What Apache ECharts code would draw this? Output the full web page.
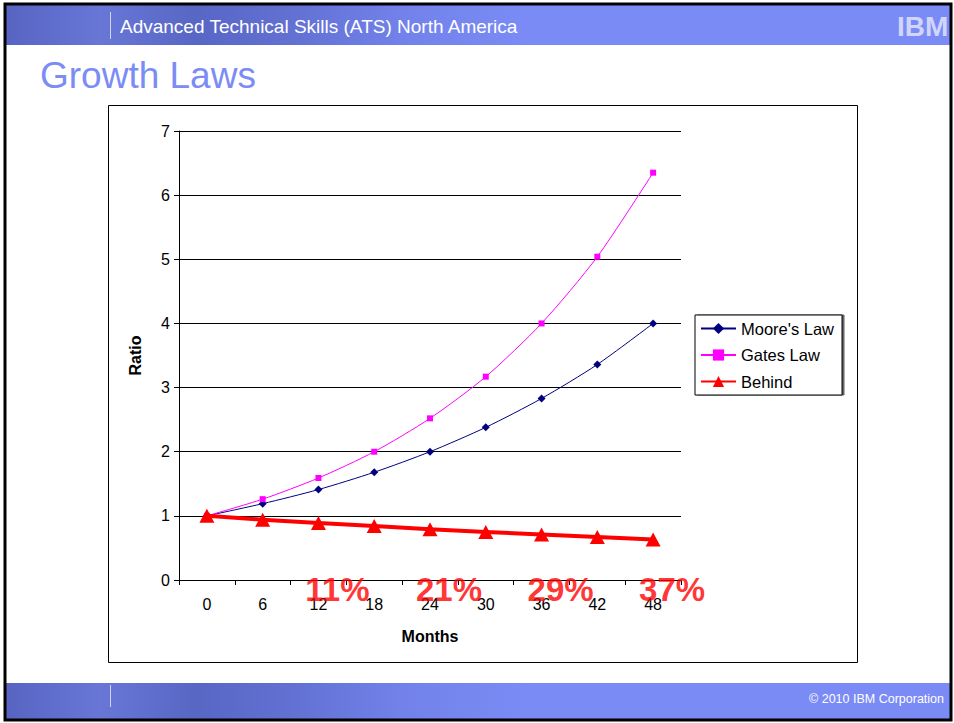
<!DOCTYPE html>
<html>
<head>
<meta charset="utf-8">
<title>Growth Laws</title>
<script src="https://cdn.jsdelivr.net/npm/echarts@6/dist/echarts.min.js"></script>
<style>
  html, body { margin: 0; padding: 0; background: #fff; }
  #chart { width: 954px; height: 723px; }
</style>
</head>
<body>
<div id="chart"></div>
<script>
// Months elapsed (category axis)
const months = ['0', '6', '12', '18', '24', '30', '36', '42', '48'];
// Relative capability, doubling every 24 months
const mooresLaw = [1, 1.19, 1.41, 1.68, 2, 2.38, 2.83, 3.36, 4];
// Relative demand, doubling every 18 months
const gatesLaw = [1, 1.26, 1.59, 2, 2.52, 3.17, 4, 5.04, 6.35];
// Ratio of the two
const behind = [1, 0.94, 0.89, 0.84, 0.79, 0.75, 0.71, 0.67, 0.63];
// Months at which the shortfall is called out
const calloutMonths = ['12', '24', '36', '48'];
// Value axis ticks
const ratioTicks = [0, 1, 2, 3, 4, 5, 6, 7];

const FONT = '"Liberation Sans", Arial, sans-serif';
const BAND = '#7b8bf5';

const callouts = calloutMonths.map(m => {
  const i = months.indexOf(m);
  return { value: [m, 0], shortfall: Math.round((1 - behind[i]) * 100) };
});

const chart = echarts.init(document.getElementById('chart'), null, { renderer: 'svg' });

const bandGradient = new echarts.graphic.LinearGradient(0, 0, 1, 0, [
  { offset: 0, color: '#5764c2' },
  { offset: 0.1, color: '#6876d6' },
  { offset: 0.2, color: '#5866c4' },
  { offset: 0.3, color: '#6270d2' },
  { offset: 0.42, color: '#7282ea' },
  { offset: 0.55, color: BAND },
  { offset: 1, color: BAND }
]);

// striped logo: horizontal bars cut through the letters
const logoStripes = [];
for (let k = 0; k < 8; k++) {
  logoStripes.push({
    type: 'rect', shape: { x: 894, y: 14 + k * 3.2 + 2.1, width: 58, height: 1.1 }, style: { fill: BAND }
  });
}

chart.setOption({
  animation: false,
  textStyle: { fontFamily: FONT },
  graphic: [
    // slide header band
    { type: 'rect', z: 0, shape: { x: 6, y: 5, width: 945, height: 40 }, style: { fill: bandGradient } },
    { type: 'rect', z: 1, shape: { x: 110, y: 12, width: 1, height: 27 }, style: { fill: 'rgba(255,255,255,0.7)' } },
    { type: 'text', z: 2, x: 120, y: 26, style: { text: 'Advanced Technical Skills (ATS) North America', fill: '#fff', font: '19px ' + FONT, verticalAlign: 'middle' } },
    { type: 'text', z: 2, x: 897, y: 26, style: { text: 'IBM', fill: '#d0d5fa', font: 'bold 28px ' + FONT, verticalAlign: 'middle' } },
    { type: 'group', z: 3, children: logoStripes },
    // title
    { type: 'text', z: 2, x: 40, y: 75, style: { text: 'Growth Laws', fill: '#7b8cf5', font: '37px ' + FONT, verticalAlign: 'middle' } },
    // footer band
    { type: 'rect', z: 0, shape: { x: 6, y: 683, width: 945, height: 36 }, style: { fill: bandGradient } },
    { type: 'rect', z: 1, shape: { x: 110, y: 685, width: 1, height: 22 }, style: { fill: 'rgba(255,255,255,0.7)' } },
    { type: 'text', z: 2, x: 944, y: 699, style: { text: '\u00a9 2010 IBM Corporation', fill: '#fff', font: '12.5px ' + FONT, align: 'right', verticalAlign: 'middle' } },
    // slide border
    { type: 'rect', z: 5, shape: { x: 5, y: 4, width: 946, height: 716 }, style: { fill: 'none', stroke: '#000', lineWidth: 3 } },
    // chart frame
    { type: 'rect', z: 0, shape: { x: 108.5, y: 105.5, width: 749, height: 557 }, style: { fill: '#fff', stroke: '#000', lineWidth: 1 } }
  ],
  grid: {
    left: 179, top: 131, width: 502, height: 449,
    show: true, borderColor: '#808080', borderWidth: 1, backgroundColor: 'transparent'
  },
  legend: {
    orient: 'vertical',
    left: 695, top: 315,
    padding: [5, 8, 5, 5],
    itemGap: 9.5,
    itemWidth: 35, itemHeight: 14,
    borderColor: '#000', borderWidth: 1,
    backgroundColor: '#fff',
    shadowColor: 'rgba(0,0,0,0.6)', shadowOffsetX: 2, shadowOffsetY: 0, shadowBlur: 0,
    textStyle: { fontSize: 16.5, color: '#000', fontFamily: FONT },
    data: ["Moore's Law", 'Gates Law', 'Behind']
  },
  xAxis: {
    type: 'category',
    data: months,
    boundaryGap: true,
    name: 'Months',
    nameLocation: 'middle',
    nameGap: 48,
    nameTextStyle: { fontSize: 16, fontWeight: 'bold', color: '#000' },
    axisLine: { lineStyle: { color: '#000', width: 1 } },
    axisTick: { show: true, length: 5, lineStyle: { color: '#000' } },
    axisLabel: { fontSize: 16, color: '#000', margin: 16 },
    splitLine: { show: false }
  },
  yAxis: {
    type: 'value',
    min: ratioTicks[0],
    max: ratioTicks[ratioTicks.length - 1],
    interval: 1,
    name: 'Ratio',
    nameLocation: 'middle',
    nameGap: 36,
    nameRotate: 90,
    nameTextStyle: { fontSize: 16, fontWeight: 'bold', color: '#000' },
    axisLine: { show: true, lineStyle: { color: '#000', width: 1 } },
    axisTick: { show: true, length: 5, lineStyle: { color: '#000' } },
    axisLabel: { fontSize: 16, color: '#000', margin: 9 },
    splitLine: { show: true, lineStyle: { color: '#000', width: 1 } }
  },
  series: [
    {
      name: "Moore's Law",
      type: 'line',
      data: mooresLaw,
      smooth: 0.25,
      color: '#000080',
      lineStyle: { width: 1, color: '#000080' },
      symbol: 'diamond', symbolSize: 8,
      itemStyle: { color: '#000080' },
      z: 3
    },
    {
      name: 'Gates Law',
      type: 'line',
      data: gatesLaw,
      smooth: 0.25,
      color: '#ff00ff',
      lineStyle: { width: 1, color: '#ff00ff' },
      symbol: 'rect', symbolSize: 6,
      itemStyle: { color: '#ff00ff' },
      z: 3
    },
    {
      name: 'Behind',
      type: 'line',
      data: behind,
      color: '#ff0000',
      lineStyle: { width: 4, color: '#ff0000' },
      symbol: 'triangle', symbolSize: [15, 14],
      itemStyle: { color: '#ff0000' },
      z: 4
    },
    {
      name: 'shortfall',
      type: 'scatter',
      data: callouts,
      symbolSize: 0,
      silent: true,
      z: 6,
      label: {
        show: true,
        position: 'inside',
        offset: [19, 9],
        formatter: p => p.data.shortfall + '%',
        color: '#ff0000',
        fontSize: 33,
        fontWeight: 'bold',
        fontFamily: FONT
      }
    }
  ]
});
</script>
</body>
</html>
